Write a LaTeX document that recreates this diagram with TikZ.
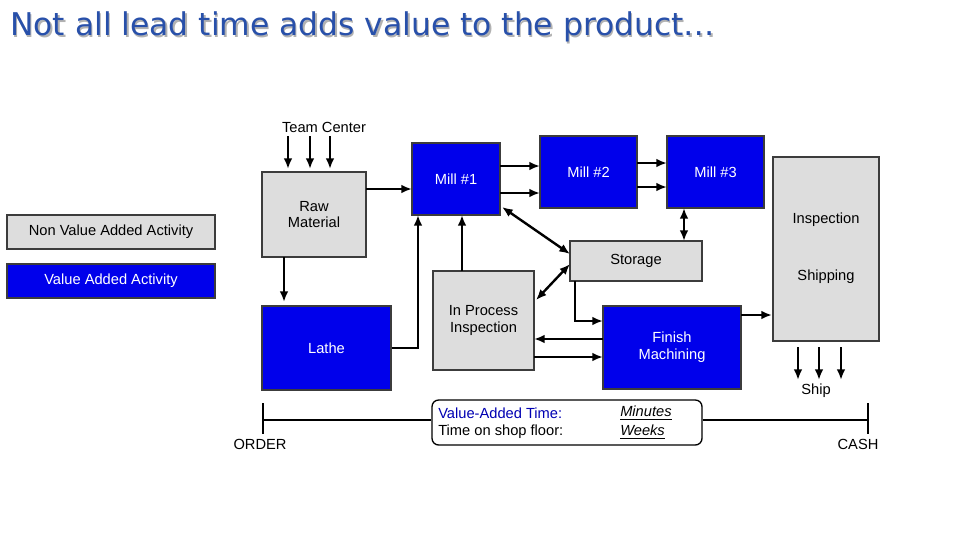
\documentclass[tikz,border=0pt]{standalone}
\usepackage{fontspec}
\setmainfont{Liberation Sans}
\newfontfamily\titlefont{DejaVu Sans}
\usetikzlibrary{arrows.meta}
\definecolor{vblue}{RGB}{0,0,235}
\definecolor{nvgray}{RGB}{221,221,221}
\definecolor{edgeg}{RGB}{60,60,60}
\definecolor{titleblue}{RGB}{40,80,170}
\begin{document}
\begin{tikzpicture}[x=0.75pt,y=-0.75pt,
  va/.style={draw=edgeg,line width=1.3pt,fill=vblue,text=white,font=\fontsize{11}{12.5}\selectfont,align=center,inner sep=0pt},
  nva/.style={draw=edgeg,line width=1.3pt,fill=nvgray,text=black,font=\fontsize{11}{12.5}\selectfont,align=center,inner sep=0pt},
  lbl/.style={font=\fontsize{11}{12.5}\selectfont,align=center,inner sep=0pt},
  arr/.style={line width=1.8pt,-{Latex[length=8pt,width=6.5pt]}},
  darr/.style={line width=1.8pt,{Latex[length=8pt,width=6.5pt]}-{Latex[length=8pt,width=6.5pt]}},
  ln/.style={line width=1.8pt}]
\useasboundingbox (0,0) rectangle (960,540);
% title
\node[anchor=west,inner sep=0pt,text=gray!60,font=\titlefont\fontsize{23.5}{26}\selectfont] at (11.5,28.5) {Not all lead time adds value to the product…};
\node[anchor=west,inner sep=0pt,text=titleblue,font=\titlefont\fontsize{23.5}{26}\selectfont] (title) at (10,27) {Not all lead time adds value to the product…};
% legend
\node[nva,minimum width=156pt,minimum height=25.5pt] (leg1) at (111,232) {Non Value Added Activity};
\node[va,minimum width=156pt,minimum height=25.5pt] (leg2) at (111,281) {Value Added Activity};
% boxes
\node[nva,minimum width=78pt,minimum height=63.75pt] (raw) at (314,214.5) {Raw\\Material};
\node[va,minimum width=66pt,minimum height=54pt] (m1) at (456,179) {Mill \#1};
\node[va,minimum width=72.75pt,minimum height=54pt] (m2) at (588.5,172) {Mill \#2};
\node[va,minimum width=72.75pt,minimum height=54pt] (m3) at (715.5,172) {Mill \#3};
\node[nva,minimum width=99pt,minimum height=30pt] (sto) at (636,261) {Storage};
\node[nva,minimum width=75.75pt,minimum height=74.25pt] (ipi) at (483.5,320.5) {In Process\\Inspection};
\node[va,minimum width=96.75pt,minimum height=63pt] (lathe) at (326.5,348) {Lathe};
\node[va,minimum width=103.5pt,minimum height=62.25pt] (fin) at (672,347.5) {Finish\\Machining};
\node[nva,minimum width=79.5pt,minimum height=138pt] (is) at (826,249) {};
\node[lbl] (insp) at (826,220) {Inspection};
\node[lbl] (ship) at (826,277) {Shipping};
% team center
\node[lbl] (tc) at (324,127) {Team Center};
\foreach \x in {288,310,330} \draw[arr] (\x,136) -- (\x,169);
% ship
\node[lbl] (shipt) at (816,391) {Ship};
\foreach \x in {798,819,841} \draw[arr] (\x,347) -- (\x,380);
% connectors
\draw[arr] (366,189) -- (412,189);
\draw[arr] (500,166) -- (540,166);
\draw[arr] (500,193) -- (540,193);
\draw[arr] (637,163) -- (667,163);
\draw[arr] (637,187) -- (667,187);
\draw[darr] (684,208) -- (684,241);
\draw[darr] (502,207) -- (570,254);
\draw[darr] (536,300) -- (570,264);
\draw[arr] (462,271) -- (462,215);
\draw[arr] (lathe.east) -- (418,348) -- (418,215);
\draw[arr] (284,257) -- (284,302);
\draw[arr] (575,281) -- (575,321) -- (603,321);
\draw[arr] (603,339) -- (534,339);
\draw[arr] (534,357) -- (603,357);
\draw[arr] (741,315) -- (772,315);
% timeline
\coordinate (o) at (263,420);
\coordinate (c) at (868,420);
\draw[ln] (263,403) -- (263,434);
\draw[ln] (868,403) -- (868,434);
\node[draw,line width=1pt,rounded corners=5pt,minimum width=202.5pt,minimum height=33.75pt] (tbox) at (567,422.5) {};
\draw[ln] (o) -- (o-|tbox.west);
\draw[ln] (c-|tbox.east) -- (c);
\node[lbl,anchor=west,text=blue!70!black] (vat) at (438,413) {Value-Added Time:};
\node[lbl,anchor=west] (tsf) at (438,432) {Time on shop floor:};
\node[lbl,anchor=west,font=\fontsize{11}{12.5}\selectfont\itshape] (mn) at (620,413) {\underline{Minutes}};
\node[lbl,anchor=west,font=\fontsize{11}{12.5}\selectfont\itshape] (wk) at (620,432) {\underline{Weeks}};
\node[lbl] (order) at (260,444) {ORDER};
\node[lbl] (cash) at (858,444) {CASH};
\end{tikzpicture}
\end{document}
